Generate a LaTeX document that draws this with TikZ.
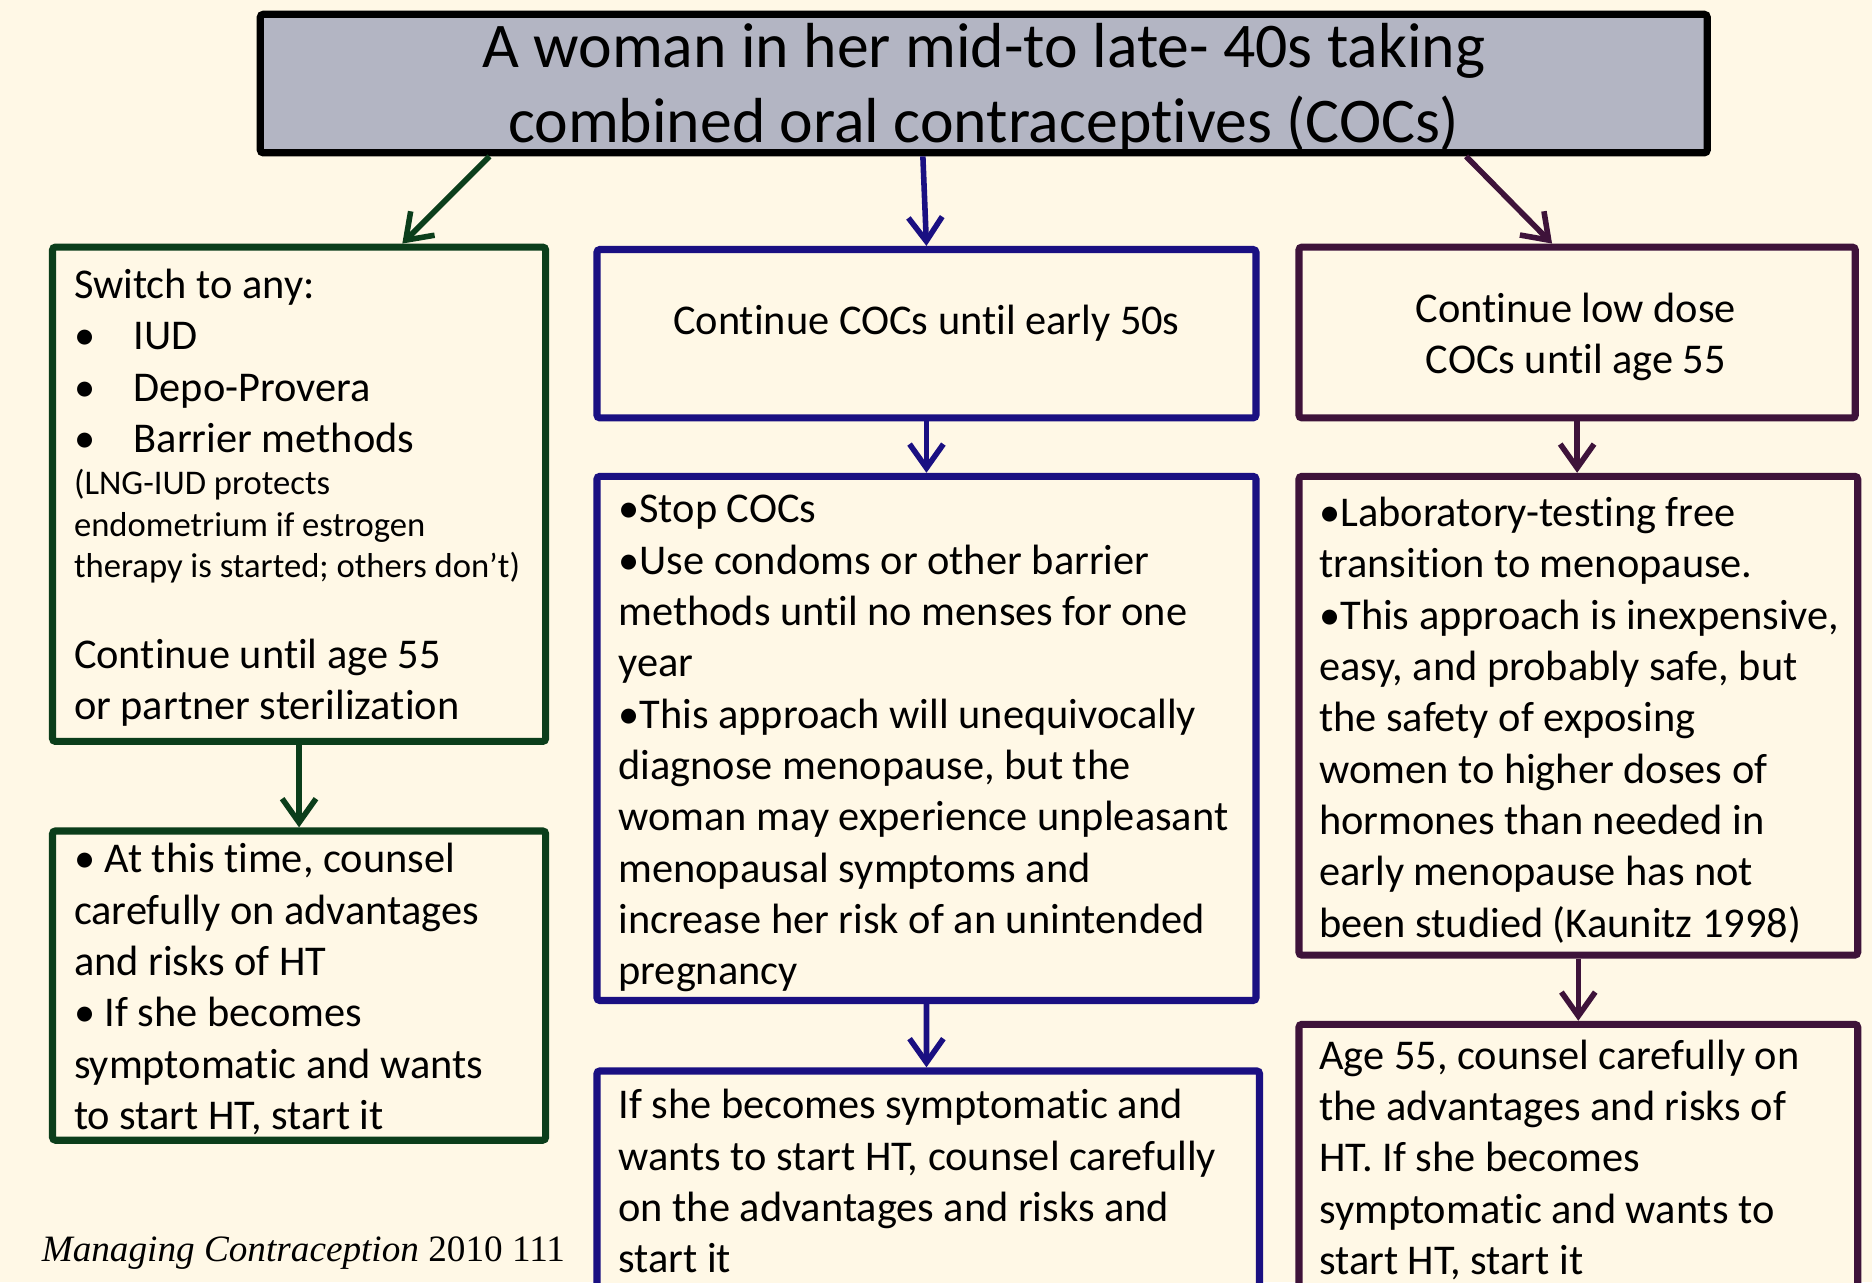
\documentclass[tikz,border=0pt]{standalone}
\usepackage{fontspec}
\setmainfont{Carlito}[Ligatures=NoCommon]
\newfontfamily\citefont{Liberation Serif}
\usetikzlibrary{arrows.meta}
\definecolor{bg}{HTML}{FFF8E6}
\definecolor{titlefill}{HTML}{B3B5C3}
\definecolor{cgreen}{HTML}{0B3E1B}
\definecolor{cblue}{HTML}{1A1082}
\definecolor{cpurple}{HTML}{3E133A}
\newcommand{\bodyfnt}{\fontsize{21.3}{25.8}\selectfont}
\newcommand{\smallfnt}{\fontsize{17.4}{20.7}\selectfont}
\newcommand{\titlefnt}{\fontsize{32}{37.8}\selectfont}
\newcommand{\bulx}{\makebox[30pt][l]{•}}
\newcommand{\txtlines}[1]{\begin{tabular}[t]{@{}l@{}}#1\end{tabular}}
\newcommand{\ctxtlines}[1]{\begin{tabular}[t]{@{}c@{}}#1\end{tabular}}
\begin{document}
\begin{tikzpicture}[x=0.6pt,y=-0.6pt,
  boxst/.style={draw, line width=3.6pt, fill=bg, rounded corners=1.5pt, inner sep=0pt},
  txt/.style={inner sep=0pt, outer sep=0pt, font=\bodyfnt, text=black},
  arr/.style={line width=2.8pt, -{Straight Barb[length=12pt,width=17pt]}},
]
\useasboundingbox (0,0) rectangle (1568,1074);
\clip (0,0) rectangle (1568,1074);
\fill[bg] (0,0) rectangle (1568,1074);

% boxes
\node[boxst, draw=black, fill=titlefill, minimum width=727.2pt, minimum height=69.6pt] (title) at (824,70) {};
\node[boxst, draw=cgreen, minimum width=247.8pt, minimum height=248.4pt] (L1) at (250.5,414) {};
\node[boxst, draw=cgreen, minimum width=247.8pt, minimum height=155.4pt] (L2) at (250.5,825.5) {};
\node[boxst, draw=cblue, minimum width=331.2pt, minimum height=84.6pt] (M1) at (776,279.5) {};
\node[boxst, draw=cblue, minimum width=331.2pt, minimum height=263.4pt] (M2) at (776,618.5) {};
\node[boxst, draw=cblue, minimum width=333pt, minimum height=121.8pt] (M3) at (777.5,998.5) {};
\node[boxst, draw=cpurple, minimum width=279.6pt, minimum height=85.8pt] (R1) at (1321,278.5) {};
\node[boxst, draw=cpurple, minimum width=280.8pt, minimum height=240.6pt] (R2) at (1322,599.5) {};
\node[boxst, draw=cpurple, minimum width=280.8pt, minimum height=145.2pt] (R3) at (1322,979) {};

% texts
\node[txt, font=\titlefnt, anchor=base] (titletext) at (824,56.5)
  {\ctxtlines{A woman in her mid-to late- 40s taking\\ combined oral contraceptives (COCs)}};

\node[txt, anchor=base west] (L1a) at (62,250)
  {\txtlines{Switch to any:\\ \bulx IUD\\ \bulx Depo-Provera\\ \bulx Barrier methods}};
\node[txt, font=\smallfnt, anchor=base west] (L1b) at (62,414.5)
  {\txtlines{(LNG-IUD protects\\ endometrium if estrogen\\ therapy is started; others don’t)}};
\node[txt, anchor=base west] (L1c) at (62,560)
  {\txtlines{Continue until age 55\\ or partner sterilization}};
\node[txt, anchor=base west] (L2t) at (62,731)
  {\txtlines{• At this time, counsel\\ carefully on advantages\\ and risks of HT\\ • If she becomes\\ symptomatic and wants\\ to start HT, start it}};

\node[txt, anchor=base] (M1t) at (776,280) {Continue COCs until early 50s};
\node[txt, anchor=base west] (M2t) at (518,438)
  {\txtlines{•Stop COCs\\ •Use condoms or other barrier\\ methods until no menses for one\\ year\\ •This approach will unequivocally\\ diagnose menopause, but the\\ woman may experience unpleasant\\ menopausal symptoms and\\ increase her risk of an unintended\\ pregnancy}};
\node[txt, anchor=base west] (M3t) at (518,937)
  {\txtlines{If she becomes symptomatic and\\ wants to start HT, counsel carefully\\ on the advantages and risks and\\ start it}};

\node[txt, anchor=base] (R1t) at (1320,270)
  {\ctxtlines{Continue low dose\\ COCs until age 55}};
\node[txt, anchor=base west] (R2t) at (1105,441)
  {\txtlines{•Laboratory-testing free\\ transition to menopause.\\ •This approach is inexpensive,\\ easy, and probably safe, but\\ the safety of exposing\\ women to higher doses of\\ hormones than needed in\\ early menopause has not\\ been studied (Kaunitz 1998)}};
\node[txt, anchor=base west] (R3t) at (1105,895.5)
  {\txtlines{Age 55, counsel carefully on\\ the advantages and risks of\\ HT. If she becomes\\ symptomatic and wants to\\ start HT, start it}};

\node[txt, font=\citefont\fontsize{18.7}{22}\selectfont, anchor=base west] (cite) at (35,1057)
  {\textit{Managing Contraception} 2010 111};

% connectors
\draw[arr, cgreen] ([xshift=-248.4pt]title.south) -- ([xshift=51.9pt]L1.north);
\draw[arr, cblue] ([xshift=-30.6pt]title.south) -- (M1.north);
\draw[arr, cpurple] ([xshift=242.4pt]title.south) -- ([xshift=-12.6pt]R1.north);
\draw[arr, cgreen] (L1.south) -- (L2.north);
\draw[arr, cblue] (M1.south) -- (M2.north);
\draw[arr, cblue] (M2.south) -- ([xshift=-0.9pt]M3.north);
\draw[arr, cpurple] (R1.south) -- ([xshift=-0.6pt]R2.north);
\draw[arr, cpurple] (R2.south) -- (R3.north);
\end{tikzpicture}
\end{document}
